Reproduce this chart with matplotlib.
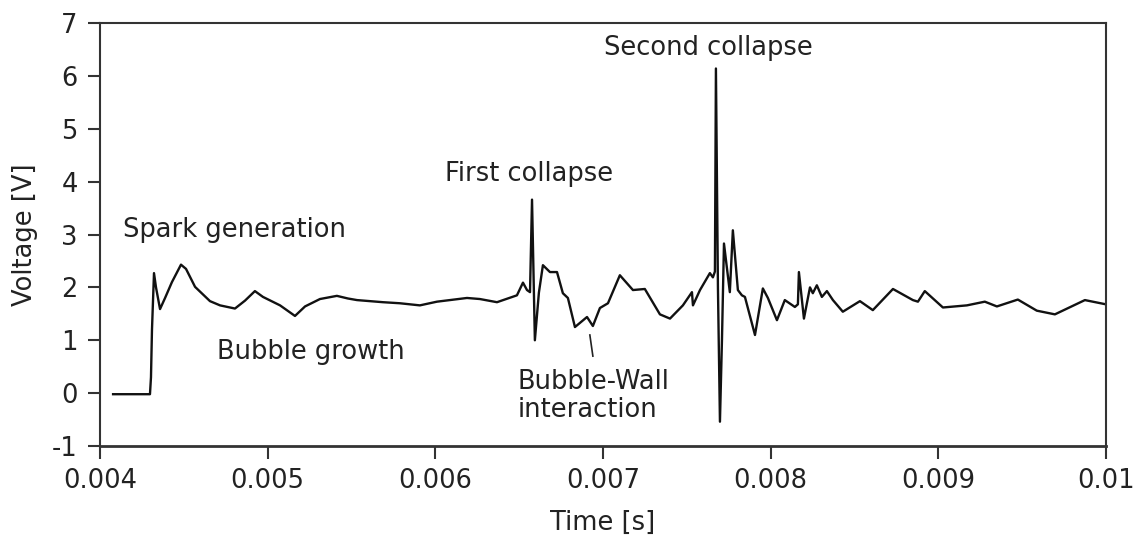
import matplotlib
matplotlib.use("Agg")
import matplotlib.pyplot as plt

t = [0.004078, 0.004298, 0.004304, 0.004310, 0.004322, 0.004334, 0.004358, 0.004388,
     0.004429, 0.004483, 0.004513, 0.004567, 0.004656, 0.004716, 0.004805, 0.004865,
     0.004924, 0.004972, 0.005074, 0.005163, 0.005223, 0.005312, 0.005413, 0.005479,
     0.005533, 0.005688, 0.005789, 0.005908, 0.006010, 0.006189, 0.006266, 0.006368,
     0.006487, 0.006523, 0.006547, 0.006565, 0.006577, 0.006594, 0.006618, 0.006642,
     0.006684, 0.006726, 0.006761, 0.006791, 0.006833, 0.006905, 0.006940, 0.006982,
     0.007030, 0.007101, 0.007179, 0.007250, 0.007340, 0.007400, 0.007477, 0.007531,
     0.007537, 0.007579, 0.007638, 0.007656, 0.007668, 0.007674, 0.007686, 0.007698,
     0.007710, 0.007722, 0.007757, 0.007775, 0.007805, 0.007829, 0.007847, 0.007907,
     0.007954, 0.007984, 0.008038, 0.008085, 0.008145, 0.008163, 0.008169, 0.008199,
     0.008235, 0.008252, 0.008276, 0.008306, 0.008336, 0.008372, 0.008431, 0.008533,
     0.008610, 0.008730, 0.008849, 0.008879, 0.008920, 0.009028, 0.009171, 0.009278,
     0.009350, 0.009475, 0.009588, 0.009696, 0.009875, 0.010000]
v = [-0.02, -0.02, 0.30, 1.20, 2.27, 2.00, 1.59, 1.80,
     2.10, 2.43, 2.35, 2.01, 1.74, 1.66, 1.60, 1.75,
     1.93, 1.82, 1.66, 1.46, 1.64, 1.78, 1.84, 1.79,
     1.76, 1.72, 1.70, 1.66, 1.73, 1.80, 1.78, 1.72,
     1.85, 2.09, 1.95, 1.91, 3.66, 1.00, 1.90, 2.42,
     2.29, 2.29, 1.89, 1.80, 1.25, 1.44, 1.27, 1.61,
     1.70, 2.23, 1.95, 1.97, 1.49, 1.41, 1.66, 1.91,
     1.66, 1.95, 2.27, 2.19, 2.30, 6.14, 2.00, -0.54,
     1.00, 2.83, 1.91, 3.08, 1.95, 1.85, 1.82, 1.10,
     1.98, 1.80, 1.38, 1.76, 1.63, 1.68, 2.29, 1.41,
     2.00, 1.89, 2.04, 1.82, 1.93, 1.76, 1.54, 1.74,
     1.57, 1.97, 1.76, 1.73, 1.93, 1.62, 1.66, 1.73,
     1.64, 1.77, 1.56, 1.49, 1.76, 1.68]

xticks = [0.004, 0.005, 0.006, 0.007, 0.008, 0.009, 0.01]
xticklabels = ["0.004", "0.005", "0.006", "0.007", "0.008", "0.009", "0.01"]
yticks = [-1, 0, 1, 2, 3, 4, 5, 6, 7]

plt.rcParams['font.family'] = ['DejaVu Sans']
plt.rcParams['font.size'] = 18.5

fig = plt.figure(figsize=(11.43, 5.43), dpi=100)
ax = fig.add_axes([0.0875, 0.1786, 0.88, 0.779])

ax.plot(t, v, color="#111111", lw=1.7)

ax.set_xlim(0.004, 0.01)
ax.set_ylim(-1, 7)
ax.set_xticks(xticks)
ax.set_xticklabels(xticklabels)
ax.set_yticks(yticks)
ax.set_yticklabels([str(y) for y in yticks])
ax.tick_params(direction="out", length=9, width=1.5, color="#333333",
               labelcolor="#222222", pad=7, top=False, right=False)
for s in ax.spines.values():
    s.set_color("#333333")
    s.set_linewidth(1.5)
ax.spines["bottom"].set_linewidth(2)

ax.set_xlabel("Time [s]", color="#222222", labelpad=11)
ax.set_ylabel("Voltage [V]", color="#222222", labelpad=10)

tc = "#222222"
ax.text(0.004137, 3.08, "Spark generation", color=tc, va="center", ha="left")
ax.text(0.004698, 0.78, "Bubble growth", color=tc, va="center", ha="left")
ax.text(0.006058, 4.14, "First collapse", color=tc, va="center", ha="left")
ax.text(0.007006, 6.52, "Second collapse", color=tc, va="center", ha="left")
ax.text(0.006492, 0.46, "Bubble-Wall\ninteraction", color=tc, va="top", ha="left",
        linespacing=1.1)
ax.plot([0.006922, 0.006940], [1.10, 0.70], color="#222222", lw=1.2)

fig.savefig("out.png", dpi=100)
